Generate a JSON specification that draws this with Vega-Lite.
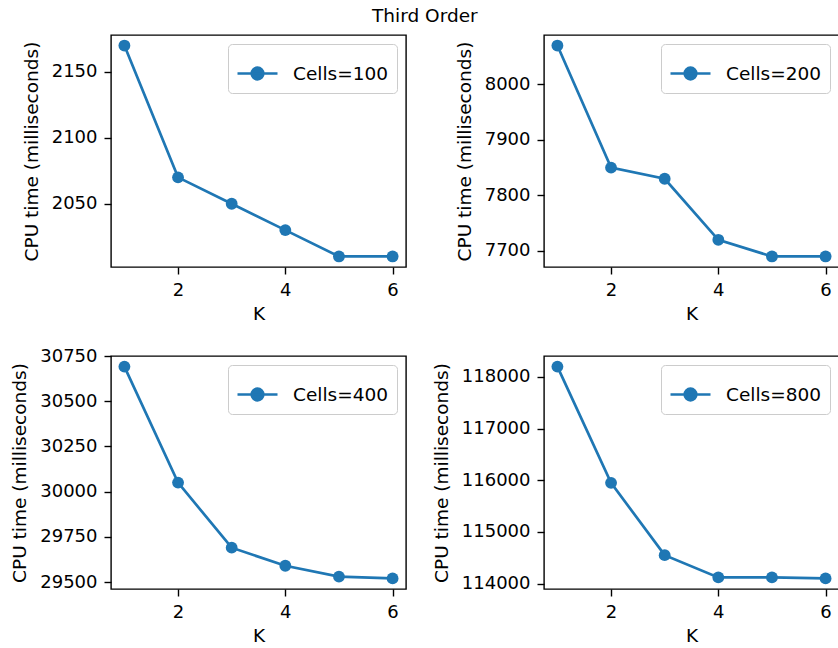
{
  "$schema": "https://vega.github.io/schema/vega-lite/v6.json",
  "padding": {"left": 10, "top": 6, "right": 0, "bottom": 0},
  "title": {"text": "Third Order", "fontSize": 18.5, "fontWeight": "normal", "font": "DejaVu Sans", "color": "black", "anchor": "middle", "offset": 9},
  "data": {"values": [
    {"cells": "Cells=100", "K": 1, "cpu": 2170},
    {"cells": "Cells=100", "K": 2, "cpu": 2070},
    {"cells": "Cells=100", "K": 3, "cpu": 2050},
    {"cells": "Cells=100", "K": 4, "cpu": 2030},
    {"cells": "Cells=100", "K": 5, "cpu": 2010},
    {"cells": "Cells=100", "K": 6, "cpu": 2010},
    {"cells": "Cells=200", "K": 1, "cpu": 8070},
    {"cells": "Cells=200", "K": 2, "cpu": 7850},
    {"cells": "Cells=200", "K": 3, "cpu": 7830},
    {"cells": "Cells=200", "K": 4, "cpu": 7720},
    {"cells": "Cells=200", "K": 5, "cpu": 7690},
    {"cells": "Cells=200", "K": 6, "cpu": 7690},
    {"cells": "Cells=400", "K": 1, "cpu": 30692},
    {"cells": "Cells=400", "K": 2, "cpu": 30050},
    {"cells": "Cells=400", "K": 3, "cpu": 29690},
    {"cells": "Cells=400", "K": 4, "cpu": 29590},
    {"cells": "Cells=400", "K": 5, "cpu": 29530},
    {"cells": "Cells=400", "K": 6, "cpu": 29520},
    {"cells": "Cells=800", "K": 1, "cpu": 118200},
    {"cells": "Cells=800", "K": 2, "cpu": 115950},
    {"cells": "Cells=800", "K": 3, "cpu": 114550},
    {"cells": "Cells=800", "K": 4, "cpu": 114120},
    {"cells": "Cells=800", "K": 5, "cpu": 114120},
    {"cells": "Cells=800", "K": 6, "cpu": 114100}
  ]},
  "columns": 2,
  "spacing": {"row": 22, "column": 24},
  "resolve": {"scale": {"x": "independent", "y": "independent", "color": "independent"}, "legend": {"color": "independent"}},
  "concat": [
    {
      "width": 295, "height": 232,
      "transform": [{"filter": "datum.cells === 'Cells=100'"}],
      "encoding": {
        "x": {"field": "K", "type": "quantitative", "scale": {"domain": [0.75, 6.25], "nice": false, "zero": false}, "axis": {"values": [2, 4, 6], "title": "K"}},
        "y": {"field": "cpu", "type": "quantitative", "scale": {"domain": [2002, 2178], "nice": false, "zero": false}, "axis": {"values": [2050, 2100, 2150], "title": "CPU time (milliseconds)", "format": "d"}},
        "color": {"field": "cells", "type": "nominal", "scale": {"range": ["#1f77b4"]}, "legend": {"orient": "top-right"}}
      },
      "layer": [
        {"mark": {"type": "line", "strokeWidth": 2.7}},
        {"mark": {"type": "point", "filled": true, "size": 140, "opacity": 1}}
      ]
    },
    {
      "width": 295, "height": 232,
      "transform": [{"filter": "datum.cells === 'Cells=200'"}],
      "encoding": {
        "x": {"field": "K", "type": "quantitative", "scale": {"domain": [0.75, 6.25], "nice": false, "zero": false}, "axis": {"values": [2, 4, 6], "title": "K"}},
        "y": {"field": "cpu", "type": "quantitative", "scale": {"domain": [7671, 8089], "nice": false, "zero": false}, "axis": {"values": [7700, 7800, 7900, 8000], "title": "CPU time (milliseconds)", "format": "d"}},
        "color": {"field": "cells", "type": "nominal", "scale": {"range": ["#1f77b4"]}, "legend": {"orient": "top-right"}}
      },
      "layer": [
        {"mark": {"type": "line", "strokeWidth": 2.7}},
        {"mark": {"type": "point", "filled": true, "size": 140, "opacity": 1}}
      ]
    },
    {
      "width": 295, "height": 233,
      "transform": [{"filter": "datum.cells === 'Cells=400'"}],
      "encoding": {
        "x": {"field": "K", "type": "quantitative", "scale": {"domain": [0.75, 6.25], "nice": false, "zero": false}, "axis": {"values": [2, 4, 6], "title": "K"}},
        "y": {"field": "cpu", "type": "quantitative", "scale": {"domain": [29461.4, 30750.6], "nice": false, "zero": false}, "axis": {"values": [29500, 29750, 30000, 30250, 30500, 30750], "title": "CPU time (milliseconds)", "format": "d"}},
        "color": {"field": "cells", "type": "nominal", "scale": {"range": ["#1f77b4"]}, "legend": {"orient": "top-right"}}
      },
      "layer": [
        {"mark": {"type": "line", "strokeWidth": 2.7}},
        {"mark": {"type": "point", "filled": true, "size": 140, "opacity": 1}}
      ]
    },
    {
      "width": 295, "height": 233,
      "transform": [{"filter": "datum.cells === 'Cells=800'"}],
      "encoding": {
        "x": {"field": "K", "type": "quantitative", "scale": {"domain": [0.75, 6.25], "nice": false, "zero": false}, "axis": {"values": [2, 4, 6], "title": "K"}},
        "y": {"field": "cpu", "type": "quantitative", "scale": {"domain": [113895, 118405], "nice": false, "zero": false}, "axis": {"values": [114000, 115000, 116000, 117000, 118000], "title": "CPU time (milliseconds)", "format": "d"}},
        "color": {"field": "cells", "type": "nominal", "scale": {"range": ["#1f77b4"]}, "legend": {"orient": "top-right"}}
      },
      "layer": [
        {"mark": {"type": "line", "strokeWidth": 2.7}},
        {"mark": {"type": "point", "filled": true, "size": 140, "opacity": 1}}
      ]
    }
  ],
  "config": {
    "font": "DejaVu Sans",
    "view": {"stroke": "black", "strokeWidth": 1.4},
    "axis": {
      "domain": false, "grid": false,
      "ticks": true, "tickColor": "black", "tickWidth": 1.4, "tickSize": 7,
      "labelPadding": 7, "labelFontSize": 18, "labelColor": "black", "labelFont": "DejaVu Sans",
      "titleFontSize": 18.5, "titleFontWeight": "normal", "titleColor": "black", "titleFont": "DejaVu Sans",
      "labelFlush": false, "labelOverlap": false
    },
    "axisY": {"titlePadding": 10},
    "axisX": {"titlePadding": 5},
    "legend": {
      "title": null, "offset": 9, "padding": 8, "cornerRadius": 4,
      "strokeColor": "#cccccc", "fillColor": "rgba(255,255,255,0.8)",
      "symbolType": "M-1,0L1,0M-0.29,0A0.29,0.29,0,1,0,0.29,0A0.29,0.29,0,1,0,-0.29,0",
      "symbolSize": 1600, "symbolStrokeWidth": 2.7,
      "symbolFillColor": "#1f77b4", "symbolStrokeColor": "#1f77b4", "symbolOpacity": 1,
      "labelFontSize": 18.5, "labelColor": "black", "labelFont": "DejaVu Sans", "labelOffset": 14, "labelBaseline": "middle"
    }
  }
}
